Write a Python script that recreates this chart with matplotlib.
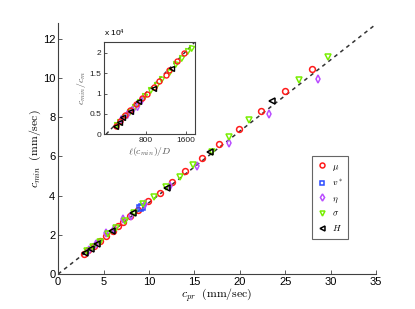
import matplotlib
matplotlib.use('Agg')
import matplotlib.pyplot as plt

plt.rcParams['font.family'] = ['Liberation Sans', 'DejaVu Sans']
plt.rcParams['mathtext.fontset'] = 'cm'

# main panel: c_pr vs c_min
mu_x = [2.8, 3.3, 3.9, 4.6, 5.3, 6.0, 6.6, 7.2, 7.9, 8.8, 9.9, 11.2, 12.5, 14.0, 15.8, 17.7, 19.9, 22.3, 25.0, 28.0]
mu_y = [1.04, 1.22, 1.44, 1.70, 1.96, 2.21, 2.44, 2.65, 2.94, 3.25, 3.72, 4.15, 4.68, 5.27, 5.93, 6.62, 7.41, 8.32, 9.35, 10.47]
vs_x = [9.0, 9.2]
vs_y = [3.36, 3.43]
eta_x = [3.4, 4.2, 5.3, 6.2, 7.1, 8.0, 9.6, 12.3, 15.3, 18.8, 23.2, 28.6]
eta_y = [1.25, 1.55, 2.12, 2.32, 2.83, 2.97, 3.55, 4.49, 5.51, 6.70, 8.15, 9.93]
sig_x = [3.2, 3.8, 4.6, 5.5, 6.4, 7.4, 8.4, 9.4, 10.6, 11.9, 13.4, 14.8, 16.9, 18.8, 21.0, 26.5, 29.7]
sig_y = [1.18, 1.40, 1.65, 2.03, 2.35, 2.72, 3.10, 3.57, 3.95, 4.42, 4.97, 5.55, 6.25, 6.99, 7.84, 9.88, 11.09]
H_x = [3.0, 3.6, 4.25, 5.9, 8.3, 12.0, 16.7, 23.6]
H_y = [1.08, 1.30, 1.53, 2.19, 3.13, 4.40, 6.24, 8.83]
fit_x = [0, 35]
fit_y = [0, 12.75]

# inset: l(c_min)/D vs c_min/c_m (x 1e4)
imu_x = [200, 280, 380, 480, 600, 720, 820, 950, 1050, 1200, 1260, 1413, 1553]
imu_y = [0.20, 0.32, 0.46, 0.60, 0.74, 0.88, 1.00, 1.17, 1.30, 1.45, 1.57, 1.80, 1.99]
ieta_x = [300, 420, 520, 620, 700]
ieta_y = [0.38, 0.50, 0.60, 0.70, 0.85]
isig_x = [200, 260, 350, 450, 550, 650, 760, 880, 1000, 1100, 1250, 1380, 1500, 1620, 1693]
isig_y = [0.22, 0.30, 0.42, 0.55, 0.67, 0.80, 0.93, 1.08, 1.22, 1.37, 1.53, 1.72, 1.88, 2.05, 2.12]
iH_x = [174, 253, 320, 473, 647, 934, 1300]
iH_y = [0.21, 0.30, 0.41, 0.58, 0.81, 1.14, 1.64]
ifit_x = [0, 1800]
ifit_y = [0, 2.30]

red = '#ff1a1a'
blue = '#2b4bff'
purple = '#b94dff'
green = '#77ee00'
gray = '#404040'

fig = plt.figure(figsize=(4.15, 3.09), dpi=100)
ax = fig.add_axes([0.14, 0.113, 0.766, 0.812])

ax.plot(fit_x, fit_y, '--', color='#333333', lw=1.1, dashes=(2.5, 2.5), zorder=1)
kw = dict(linestyle='none', markerfacecolor='none', markersize=4.2, markeredgewidth=1.1)
ax.plot(mu_x, mu_y, marker='o', color=red, label=r'$\mu$', **kw)
ax.plot(vs_x, vs_y, marker='s', color=blue, label=r'$v^*$', **kw)
ax.plot(eta_x, eta_y, marker='d', color=purple, label=r'$\eta$', **kw)
ax.plot(sig_x, sig_y, marker='v', color=green, label=r'$\sigma$', **kw)
ax.plot(H_x, H_y, marker='<', color='black', label=r'$H$', **kw)

ax.set_xlim(0, 35)
ax.set_ylim(0, 12.8)
ax.set_xticks([0, 5, 10, 15, 20, 25, 30, 35])
ax.set_yticks([0, 2, 4, 6, 8, 10, 12])
for s in ['top', 'right']:
    ax.spines[s].set_visible(False)
for s in ['left', 'bottom']:
    ax.spines[s].set_color(gray)
    ax.spines[s].set_linewidth(0.8)
ax.tick_params(direction='in', length=3, width=0.6, colors=gray, labelcolor='black', labelsize=8, pad=2)
ax.set_xlabel(r'$c_{pr}\ \ (\mathrm{mm/sec})$', fontsize=8.5, labelpad=0)
ax.set_ylabel(r'$c_{min}\ \ (\mathrm{mm/sec})$', fontsize=8.5, labelpad=0)

leg = ax.legend(loc='upper left', bbox_to_anchor=(0.8, 0.47), fontsize=6.5, frameon=True,
                fancybox=False, handletextpad=0.6, labelspacing=0.55, borderpad=0.6,
                handlelength=1.0, borderaxespad=0, markerscale=0.85)
leg.get_frame().set_edgecolor(gray)
leg.get_frame().set_linewidth(0.8)

ins = fig.add_axes([0.251, 0.566, 0.219, 0.298])
ikw = dict(linestyle='none', markerfacecolor='none', markersize=3.6, markeredgewidth=1.0)
ins.plot(ifit_x, ifit_y, '--', color='#333333', lw=1.0, dashes=(2.5, 2.5), zorder=1)
ins.plot(isig_x, isig_y, marker='v', color=green, **ikw)
ins.plot(ieta_x, ieta_y, marker='d', color=purple, **ikw)
ins.plot(imu_x, imu_y, marker='o', color=red, **ikw)
ins.plot(iH_x, iH_y, marker='<', color='black', **ikw)
ins.set_xlim(-40, 1780)
ins.set_ylim(0, 2.27)
ins.set_xticks([800, 1600])
ins.set_yticks([0, 0.5, 1, 1.5, 2])
ins.set_yticklabels(['0', '0.5', '1', '1.5', '2'])
for s in ins.spines.values():
    s.set_color(gray)
    s.set_linewidth(0.8)
ins.tick_params(direction='in', length=2, width=0.6, colors=gray, labelcolor='#222222', labelsize=6, pad=2)
ins.set_xlabel(r'$\ell(c_{min})/D$', fontsize=7, labelpad=1, color='#555555')
ins.set_ylabel(r'$c_{min}/c_m$', fontsize=7, labelpad=1, color='#555555')
ins.text(0.0, 1.03, r'x $\mathregular{10^4}$', transform=ins.transAxes, fontsize=6, ha='left', va='bottom')

fig.savefig('out.png', dpi=100)
